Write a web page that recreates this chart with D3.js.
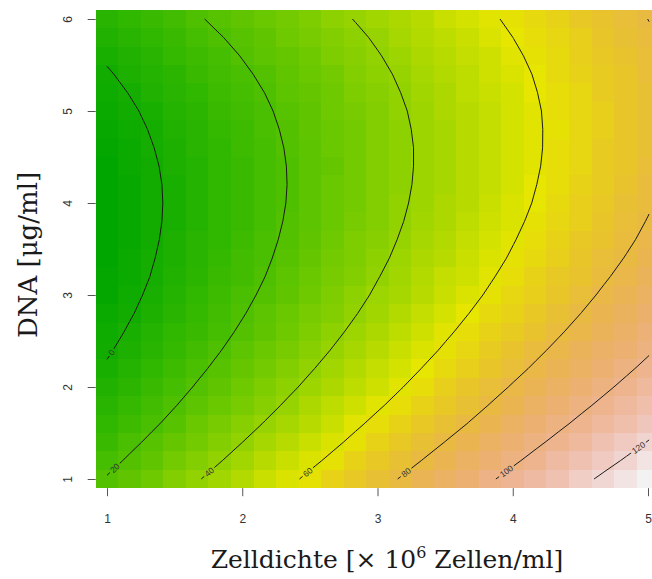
<!DOCTYPE html>
<html>
<head>
<meta charset="utf-8">
<script src="https://cdn.jsdelivr.net/npm/d3@7"></script>
<style>
  body { margin: 0; background: #ffffff; }
</style>
</head>
<body>
<div id="chart"></div>
<script>
// Grid positions (Zelldichte, DNA) and tick values
var xGrid = [1, 1.167, 1.333, 1.5, 1.667, 1.833, 2, 2.167, 2.333, 2.5, 2.667, 2.833,
             3, 3.167, 3.333, 3.5, 3.667, 3.833, 4, 4.167, 4.333, 4.5, 4.667, 4.833, 5];
var yGrid = [1, 1.2, 1.4, 1.6, 1.8, 2, 2.2, 2.4, 2.6, 2.8, 3, 3.2, 3.4,
             3.6, 3.8, 4, 4.2, 4.4, 4.6, 4.8, 5, 5.2, 5.4, 5.6, 5.8, 6];
var xTicks = [1, 2, 3, 4, 5];
var yTicks = [1, 2, 3, 4, 5, 6];
var levels = [0, 20, 40, 60, 80, 100, 120];

// Response values, one row per DNA value (bottom row first)
var zRows = [
  [20.8, 25.4, 30.0, 34.6, 39.2, 43.8, 48.4, 53.0, 57.6, 62.2, 66.8, 71.4, 76.0, 80.6, 85.2, 89.8, 94.4, 99.0, 103.6, 108.2, 112.8, 117.4, 122.0, 126.6, 131.2],
  [16.8, 21.4, 25.9, 30.4, 35.0, 39.5, 44.1, 48.6, 53.1, 57.7, 62.2, 66.8, 71.3, 75.8, 80.4, 84.9, 89.4, 94.0, 98.5, 103.1, 107.6, 112.1, 116.7, 121.2, 125.8],
  [13.1, 17.6, 22.1, 26.5, 31.0, 35.5, 40.0, 44.5, 48.9, 53.4, 57.9, 62.4, 66.8, 71.3, 75.8, 80.3, 84.7, 89.2, 93.7, 98.2, 102.7, 107.1, 111.6, 116.1, 120.6],
  [9.7, 14.1, 18.5, 22.9, 27.4, 31.8, 36.2, 40.6, 45.0, 49.4, 53.8, 58.3, 62.7, 67.1, 71.5, 75.9, 80.3, 84.7, 89.2, 93.6, 98.0, 102.4, 106.8, 111.2, 115.7],
  [6.6, 10.9, 15.3, 19.6, 24.0, 28.3, 32.7, 37.0, 41.4, 45.7, 50.1, 54.4, 58.8, 63.1, 67.5, 71.9, 76.2, 80.6, 84.9, 89.3, 93.6, 98.0, 102.3, 106.7, 111.0],
  [3.7, 8.0, 12.3, 16.6, 20.9, 25.2, 29.5, 33.7, 38.0, 42.3, 46.6, 50.9, 55.2, 59.5, 63.8, 68.1, 72.4, 76.7, 81.0, 85.2, 89.5, 93.8, 98.1, 102.4, 106.7],
  [1.1, 5.4, 9.6, 13.8, 18.1, 22.3, 26.5, 30.7, 35.0, 39.2, 43.4, 47.7, 51.9, 56.1, 60.4, 64.6, 68.8, 73.0, 77.3, 81.5, 85.7, 90.0, 94.2, 98.4, 102.7],
  [-1.1, 3.0, 7.2, 11.4, 15.5, 19.7, 23.9, 28.0, 32.2, 36.4, 40.5, 44.7, 48.9, 53.0, 57.2, 61.4, 65.5, 69.7, 73.9, 78.1, 82.2, 86.4, 90.6, 94.7, 98.9],
  [-3.1, 1.0, 5.1, 9.2, 13.3, 17.4, 21.5, 25.6, 29.7, 33.8, 37.9, 42.0, 46.1, 50.2, 54.4, 58.5, 62.6, 66.7, 70.8, 74.9, 79.0, 83.1, 87.2, 91.3, 95.4],
  [-4.8, -0.8, 3.2, 7.3, 11.3, 15.4, 19.4, 23.5, 27.5, 31.6, 35.6, 39.6, 43.7, 47.7, 51.8, 55.8, 59.9, 63.9, 68.0, 72.0, 76.1, 80.1, 84.1, 88.2, 92.2],
  [-6.3, -2.3, 1.7, 5.7, 9.7, 13.6, 17.6, 21.6, 25.6, 29.6, 33.6, 37.5, 41.5, 45.5, 49.5, 53.5, 57.5, 61.4, 65.4, 69.4, 73.4, 77.4, 81.4, 85.3, 89.3],
  [-7.4, -3.5, 0.4, 4.4, 8.3, 12.2, 16.1, 20.0, 24.0, 27.9, 31.8, 35.7, 39.7, 43.6, 47.5, 51.4, 55.3, 59.3, 63.2, 67.1, 71.0, 75.0, 78.9, 82.8, 86.7],
  [-8.3, -4.4, -0.5, 3.3, 7.2, 11.0, 14.9, 18.8, 22.6, 26.5, 30.3, 34.2, 38.1, 41.9, 45.8, 49.6, 53.5, 57.4, 61.2, 65.1, 68.9, 72.8, 76.7, 80.5, 84.4],
  [-8.8, -5.0, -1.2, 2.6, 6.4, 10.2, 14.0, 17.8, 21.6, 25.4, 29.2, 33.0, 36.8, 40.6, 44.4, 48.2, 52.0, 55.8, 59.6, 63.4, 67.2, 71.0, 74.7, 78.5, 82.3],
  [-9.1, -5.4, -1.6, 2.1, 5.9, 9.6, 13.3, 17.1, 20.8, 24.5, 28.3, 32.0, 35.7, 39.5, 43.2, 47.0, 50.7, 54.4, 58.2, 61.9, 65.6, 69.4, 73.1, 76.9, 80.6],
  [-9.1, -5.4, -1.7, 1.9, 5.6, 9.3, 13.0, 16.6, 20.3, 24.0, 27.7, 31.3, 35.0, 38.7, 42.4, 46.0, 49.7, 53.4, 57.1, 60.7, 64.4, 68.1, 71.8, 75.4, 79.1],
  [-8.8, -5.2, -1.6, 2.1, 5.7, 9.3, 12.9, 16.5, 20.1, 23.7, 27.4, 31.0, 34.6, 38.2, 41.8, 45.4, 49.0, 52.6, 56.3, 59.9, 63.5, 67.1, 70.7, 74.3, 77.9],
  [-8.2, -4.6, -1.1, 2.5, 6.0, 9.6, 13.1, 16.7, 20.2, 23.8, 27.3, 30.9, 34.4, 38.0, 41.5, 45.1, 48.6, 52.2, 55.7, 59.3, 62.8, 66.4, 69.9, 73.5, 77.0],
  [-7.3, -3.8, -0.3, 3.1, 6.6, 10.1, 13.6, 17.1, 20.6, 24.1, 27.6, 31.1, 34.6, 38.0, 41.5, 45.0, 48.5, 52.0, 55.5, 59.0, 62.5, 66.0, 69.5, 72.9, 76.4],
  [-6.2, -2.7, 0.7, 4.1, 7.5, 11.0, 14.4, 17.8, 21.3, 24.7, 28.1, 31.5, 35.0, 38.4, 41.8, 45.3, 48.7, 52.1, 55.5, 59.0, 62.4, 65.8, 69.3, 72.7, 76.1],
  [-4.7, -1.4, 2.0, 5.4, 8.7, 12.1, 15.5, 18.8, 22.2, 25.6, 28.9, 32.3, 35.7, 39.0, 42.4, 45.8, 49.1, 52.5, 55.9, 59.2, 62.6, 66.0, 69.3, 72.7, 76.1],
  [-3.0, 0.3, 3.6, 6.9, 10.2, 13.5, 16.8, 20.1, 23.4, 26.7, 30.0, 33.4, 36.7, 40.0, 43.3, 46.6, 49.9, 53.2, 56.5, 59.8, 63.1, 66.4, 69.7, 73.0, 76.3],
  [-1.0, 2.3, 5.5, 8.7, 12.0, 15.2, 18.5, 21.7, 25.0, 28.2, 31.4, 34.7, 37.9, 41.2, 44.4, 47.7, 50.9, 54.2, 57.4, 60.6, 63.9, 67.1, 70.4, 73.6, 76.9],
  [1.3, 4.5, 7.7, 10.9, 14.0, 17.2, 20.4, 23.6, 26.8, 30.0, 33.1, 36.3, 39.5, 42.7, 45.9, 49.0, 52.2, 55.4, 58.6, 61.8, 65.0, 68.1, 71.3, 74.5, 77.7],
  [3.9, 7.0, 10.1, 13.3, 16.4, 19.5, 22.6, 25.7, 28.9, 32.0, 35.1, 38.2, 41.3, 44.5, 47.6, 50.7, 53.8, 56.9, 60.1, 63.2, 66.3, 69.4, 72.5, 75.7, 78.8],
  [6.8, 9.8, 12.9, 16.0, 19.0, 22.1, 25.1, 28.2, 31.2, 34.3, 37.4, 40.4, 43.5, 46.5, 49.6, 52.7, 55.7, 58.8, 61.8, 64.9, 67.9, 71.0, 74.1, 77.1, 80.2]
];

var xTitle = 'Zelldichte [\u00d7 10';
var xTitleSup = '6';
var xTitleEnd = ' Zellen/ml]';
var yTitle = 'DNA [\u03bcg/ml]';

// labels placed at the upper end of the line instead of the lower one
var labelAtTop = [120];

var width  = 652;
var height = 579;
var plot = { left: 95.7, right: 659.3, top: 9.8, bottom: 488.2 };

var nx = xGrid.length, ny = yGrid.length;
var dx = xGrid[1] - xGrid[0];
var dy = yGrid[1] - yGrid[0];

var xScale = d3.scaleLinear ()
               .domain ([ xGrid[0] - dx / 2, xGrid[nx - 1] + dx / 2 ])
               .range ([ plot.left, plot.right ]);

var yScale = d3.scaleLinear ()
               .domain ([ yGrid[0] - dy / 2, yGrid[ny - 1] + dy / 2 ])
               .range ([ plot.bottom, plot.top ]);

//
// R's terrain.colors()
//
function hsv (h, s, v)
{
    var i = Math.floor (h * 6), f = h * 6 - i;
    var p = v * (1 - s), q = v * (1 - f * s), t = v * (1 - (1 - f) * s);
    var r, g, b;
    switch (((i % 6) + 6) % 6)
    {
        case 0: r = v; g = t; b = p; break;
        case 1: r = q; g = v; b = p; break;
        case 2: r = p; g = v; b = t; break;
        case 3: r = p; g = q; b = v; break;
        case 4: r = t; g = p; b = v; break;
        default: r = v; g = p; b = q;
    }
    return d3.rgb (r * 255, g * 255, b * 255).formatHex ();
}

function terrainColors (n)
{
    var k = Math.floor (n / 2), out = [];
    for (var i = 0; i < k; i++)
    {
        var t = i / (k - 1);
        out.push (hsv (4 / 12 - 2 / 12 * t, 1, 0.65 + 0.25 * t));
    }
    var m = n - k + 1;
    for (var i = 1; i < m; i++)
    {
        var t = i / (m - 1);
        out.push (hsv (2 / 12 * (1 - t), 1 - t, 0.9 + 0.05 * t));
    }
    return out;
}

var flat = [];
zRows.forEach (function (row) { row.forEach (function (v) { flat.push (v); }); });

var colour = d3.scaleQuantize ()
               .domain (d3.extent (flat))
               .range (terrainColors (100));

var svg = d3.select ('#chart').append ('svg')
            .attr ('width', width)
            .attr ('height', height)
            .style ('display', 'block');

// Image cells
var cells = [];
zRows.forEach (function (row, j) {
    row.forEach (function (v, i) { cells.push ({ x: xGrid[i], y: yGrid[j], z: v }); });
});

svg.append ('g')
   .selectAll ('rect')
   .data (cells)
   .enter ()
   .append ('rect')
   .attr ('x', function (d) { return xScale (d.x - dx / 2); })
   .attr ('y', function (d) { return yScale (d.y + dy / 2); })
   .attr ('width', function (d) { return xScale (d.x + dx / 2) - xScale (d.x - dx / 2); })
   .attr ('height', function (d) { return yScale (d.y - dy / 2) - yScale (d.y + dy / 2); })
   .attr ('fill', function (d) { return colour (d.z); })
   .attr ('shape-rendering', 'crispEdges');

//
// Contour lines: d3.contours gives filled bands; keep only the part of
// every ring that lies inside the grid of cell centres.
//
var contours = d3.contours ()
                 .size ([ nx, ny ])
                 .thresholds (levels) (flat);

function toScreen (p)
{
    return [ xScale (xGrid[0] + (p[0] - 0.5) * dx), yScale (yGrid[0] + (p[1] - 0.5) * dy) ];
}

function inside (p)
{
    var e = 1e-6;
    return p[0] >= 0.5 - e && p[0] <= nx - 0.5 + e && p[1] >= 0.5 - e && p[1] <= ny - 0.5 + e;
}

function isolines (geom)
{
    var lines = [];
    geom.coordinates.forEach (function (poly) {
        poly.forEach (function (ring) {
            var pts = ring.slice (0, ring.length - 1);
            var start = -1;
            for (var i = 0; i < pts.length; i++)
                if (!inside (pts[i])) { start = i; break; }
            if (start < 0) { lines.push (ring.map (toScreen)); return; }
            var run = [];
            for (var k = 1; k <= pts.length; k++)
            {
                var p = pts[(start + k) % pts.length];
                if (inside (p)) run.push (toScreen (p));
                else
                {
                    if (run.length > 1) lines.push (run);
                    run = [];
                }
            }
            if (run.length > 1) lines.push (run);
        });
    });
    return lines;
}

function cumLengths (pts)
{
    var c = [0];
    for (var i = 1; i < pts.length; i++)
        c.push (c[i - 1] + Math.hypot (pts[i][0] - pts[i - 1][0], pts[i][1] - pts[i - 1][1]));
    return c;
}

function pointAt (pts, cum, s)
{
    s = Math.max (0, Math.min (cum[cum.length - 1], s));
    for (var i = 0; i < pts.length - 1; i++)
    {
        if (s <= cum[i + 1] || i == pts.length - 2)
        {
            var seg = cum[i + 1] - cum[i];
            var t = seg > 0 ? (s - cum[i]) / seg : 0;
            return [ pts[i][0] + t * (pts[i + 1][0] - pts[i][0]), pts[i][1] + t * (pts[i + 1][1] - pts[i][1]) ];
        }
    }
    return pts[0];
}

function slicePts (pts, cum, a, b)
{
    var out = [ pointAt (pts, cum, a) ];
    for (var i = 0; i < pts.length; i++)
        if (cum[i] > a && cum[i] < b) out.push (pts[i]);
    out.push (pointAt (pts, cum, b));
    return out;
}

var line = d3.line ();
var gLines = svg.append ('g');
var gLabels = svg.append ('g');

contours.forEach (function (c) {
    isolines (c).forEach (function (pts) {
        var top = labelAtTop.indexOf (c.value) >= 0;
        var firstLower = pts[0][1] > pts[pts.length - 1][1];
        if (firstLower == top) pts.reverse ();

        var cum = cumLengths (pts);
        var total = cum[cum.length - 1];

        // short pieces (like the 80 line in the top right corner) get no label
        if (total < 60)
        {
            gLines.append ('path').attr ('d', line (pts));
            return;
        }

        var label = gLabels.append ('text')
                           .text (c.value)
                           .attr ('font-family', 'Liberation Sans, Arial, sans-serif')
                           .attr ('font-size', '8.5px')
                           .attr ('fill', '#333333')
                           .attr ('text-anchor', 'middle')
                           .attr ('dy', '0.35em');
        var w = label.node ().getComputedTextLength ();
        var s0 = 6 + w / 2;
        var pc = pointAt (pts, cum, s0);
        var pa = pointAt (pts, cum, s0 - 4), pb = pointAt (pts, cum, s0 + 4);
        var ang = Math.atan2 (pb[1] - pa[1], pb[0] - pa[0]) * 180 / Math.PI;
        if (ang > 90) ang -= 180;
        if (ang < -90) ang += 180;
        label.attr ('transform', 'translate(' + pc[0] + ',' + pc[1] + ') rotate(' + ang + ')');

        var gapA = s0 - w / 2 - 2, gapB = s0 + w / 2 + 2;
        if (gapA > 0.5)
            gLines.append ('path').attr ('d', line (slicePts (pts, cum, 0, gapA)));
        if (gapB < total)
            gLines.append ('path').attr ('d', line (slicePts (pts, cum, gapB, total)));
    });
});

gLines.selectAll ('path')
      .attr ('fill', 'none')
      .attr ('stroke', '#1a1a1a')
      .attr ('stroke-width', 1);

// Axes
var xAxis = d3.axisBottom (xScale)
              .tickValues (xTicks)
              .tickFormat (d3.format ('d'))
              .tickSize (8)
              .tickPadding (18);

var gx = svg.append ('g')
            .attr ('transform', 'translate(0,' + plot.bottom + ')')
            .call (xAxis);
gx.select ('.domain').remove ();
gx.selectAll ('line').attr ('stroke', '#555555');
gx.selectAll ('text')
  .attr ('font-family', 'Liberation Sans, Arial, sans-serif')
  .attr ('font-size', '12px')
  .attr ('fill', '#333333');

var yAxis = d3.axisLeft (yScale)
              .tickValues (yTicks)
              .tickFormat (d3.format ('d'))
              .tickSize (8);

var gy = svg.append ('g')
            .attr ('transform', 'translate(' + plot.left + ',0)')
            .call (yAxis);
gy.select ('.domain').remove ();
gy.selectAll ('line').attr ('stroke', '#555555');
gy.selectAll ('text')
  .attr ('x', null)
  .attr ('dy', '0.35em')
  .attr ('text-anchor', 'middle')
  .attr ('transform', 'translate(' + (68 - plot.left) + ',0) rotate(-90)')
  .attr ('font-family', 'Liberation Sans, Arial, sans-serif')
  .attr ('font-size', '12px')
  .attr ('fill', '#333333');

// Axis titles
var xt = svg.append ('text')
            .attr ('x', 387)
            .attr ('y', 568)
            .attr ('text-anchor', 'middle')
            .attr ('font-family', 'DejaVu Serif, serif')
            .attr ('font-size', '25px')
            .attr ('fill', '#1a1a1a');
xt.append ('tspan').text (xTitle);
xt.append ('tspan').attr ('dy', -10).attr ('font-size', '16px').text (xTitleSup);
xt.append ('tspan').attr ('dy', 10).text (xTitleEnd);

svg.append ('text')
   .attr ('transform', 'translate(37,255) rotate(-90)')
   .attr ('text-anchor', 'middle')
   .attr ('font-family', 'DejaVu Serif, serif')
   .attr ('font-size', '26px')
   .attr ('fill', '#1a1a1a')
   .text (yTitle);
</script>
</body>
</html>
